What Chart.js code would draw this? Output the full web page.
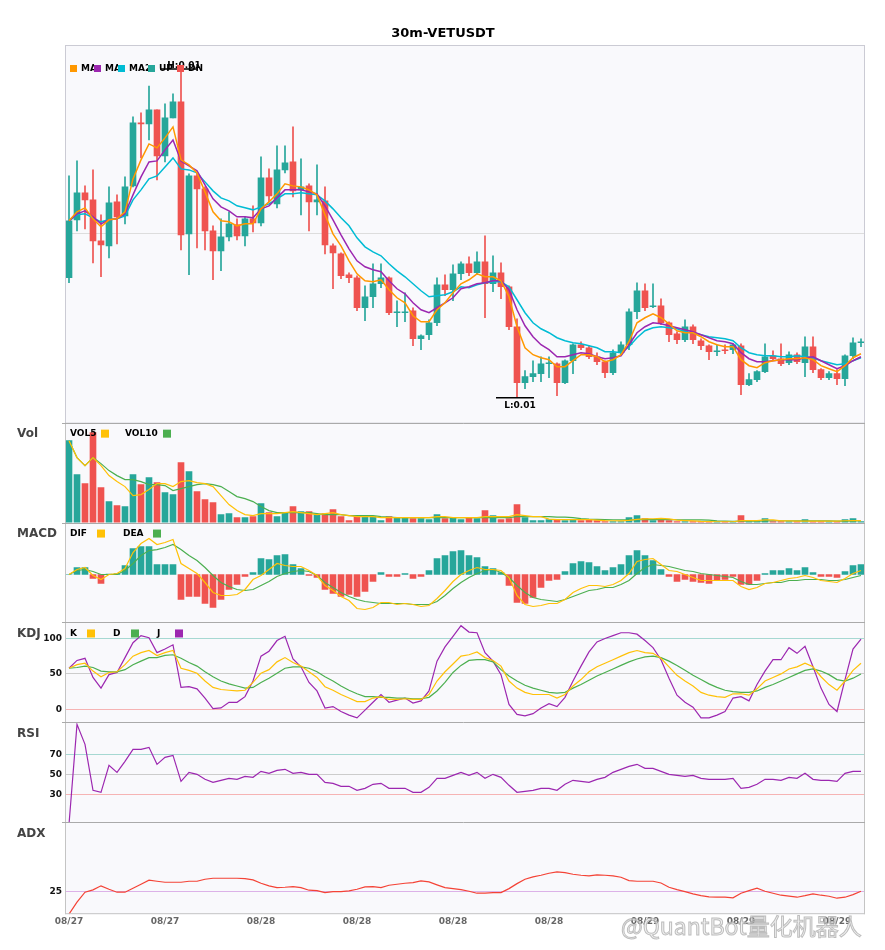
<!DOCTYPE html>
<html>
<head>
<meta charset="utf-8">
<title>30m-VETUSDT</title>
<script src="https://cdn.jsdelivr.net/npm/chart.js@4.4.0/dist/chart.umd.min.js"></script>
<style>
  html, body { margin: 0; padding: 0; background: #fff; }
  #wrap { width: 885px; height: 950px; }
</style>
</head>
<body>
<div id="wrap"><canvas id="chart" width="885" height="950"></canvas></div>
<script>
// ---- data (30m candles, 08/27 12:00 onwards) ----
const tickLabels = ['08/27', '08/27', '08/28', '08/28', '08/28', '08/28', '08/29', '08/29', '08/29'];
const tickEvery = 12;

const opens = [0.01145,0.01203,0.01230,0.01223,0.01182,0.01177,0.01221,0.01207,0.01237,0.01300,
  0.01299,0.01313,0.01267,0.01305,0.01321,0.01189,0.01247,0.01234,0.01192,0.01172,
  0.01186,0.01198,0.01187,0.01204,0.01200,0.01245,0.01219,0.01253,0.01261,0.01233,
  0.01237,0.01221,0.01222,0.01177,0.01169,0.01148,0.01145,0.01115,0.01126,0.01139,
  0.01145,0.01110,0.01110,0.01112,0.01084,0.01088,0.01100,0.01138,0.01133,0.01149,
  0.01159,0.01150,0.01161,0.01139,0.01150,0.01136,0.01096,0.01040,0.01046,0.01049,
  0.01059,0.01059,0.01040,0.01062,0.01078,0.01075,0.01066,0.01061,0.01050,0.01070,
  0.01078,0.01111,0.01132,0.01116,0.01117,0.01100,0.01089,0.01083,0.01096,0.01082,
  0.01077,0.01071,0.01073,0.01073,0.01077,0.01038,0.01043,0.01051,0.01067,0.01064,
  0.01060,0.01068,0.01060,0.01076,0.01053,0.01045,0.01049,0.01044,0.01067,0.01080];
const closes = [0.01202,0.01230,0.01223,0.01182,0.01178,0.01220,0.01206,0.01236,0.01300,0.01299,
  0.01313,0.01267,0.01305,0.01321,0.01188,0.01247,0.01234,0.01192,0.01172,0.01186,
  0.01199,0.01187,0.01204,0.01200,0.01245,0.01227,0.01253,0.01260,0.01232,0.01236,
  0.01221,0.01223,0.01178,0.01170,0.01147,0.01145,0.01115,0.01126,0.01139,0.01145,
  0.01110,0.01111,0.01111,0.01084,0.01087,0.01100,0.01138,0.01133,0.01149,0.01159,
  0.01150,0.01161,0.01139,0.01150,0.01136,0.01096,0.01040,0.01046,0.01049,0.01059,
  0.01060,0.01040,0.01062,0.01078,0.01075,0.01066,0.01061,0.01050,0.01070,0.01078,
  0.01111,0.01132,0.01115,0.01117,0.01100,0.01088,0.01083,0.01096,0.01083,0.01077,
  0.01071,0.01072,0.01072,0.01078,0.01038,0.01043,0.01051,0.01066,0.01064,0.01059,
  0.01068,0.01061,0.01076,0.01053,0.01045,0.01049,0.01044,0.01067,0.01080,0.01081];
const highs = [0.01247,0.01262,0.01237,0.01253,0.01208,0.01236,0.01228,0.01246,0.01306,0.01310,
  0.01337,0.01313,0.01319,0.01329,0.01354,0.01249,0.01250,0.01236,0.01197,0.01204,
  0.01211,0.01204,0.01206,0.01217,0.01266,0.01254,0.01277,0.01277,0.01296,0.01264,
  0.01239,0.01258,0.01236,0.01179,0.01170,0.01150,0.01147,0.01137,0.01159,0.01159,
  0.01146,0.01122,0.01130,0.01115,0.01088,0.01103,0.01145,0.01148,0.01158,0.01161,
  0.01166,0.01171,0.01187,0.01167,0.01160,0.01137,0.01104,0.01052,0.01062,0.01066,
  0.01066,0.01060,0.01063,0.01079,0.01081,0.01077,0.01070,0.01062,0.01073,0.01081,
  0.01114,0.01140,0.01139,0.01139,0.01124,0.01101,0.01091,0.01103,0.01098,0.01084,
  0.01078,0.01078,0.01078,0.01079,0.01079,0.01049,0.01052,0.01079,0.01072,0.01079,
  0.01071,0.01070,0.01086,0.01086,0.01054,0.01051,0.01053,0.01068,0.01085,0.01084];
const lows = [0.01140,0.01192,0.01194,0.01160,0.01146,0.01165,0.01179,0.01199,0.01236,0.01265,
  0.01283,0.01243,0.01261,0.01305,0.01173,0.01148,0.01175,0.01173,0.01143,0.01152,
  0.01182,0.01183,0.01177,0.01191,0.01197,0.01221,0.01215,0.01250,0.01226,0.01208,
  0.01192,0.01208,0.01169,0.01134,0.01144,0.01140,0.01112,0.01102,0.01115,0.01135,
  0.01108,0.01096,0.01101,0.01077,0.01073,0.01083,0.01097,0.01127,0.01122,0.01143,
  0.01147,0.01148,0.01105,0.01131,0.01124,0.01093,0.01025,0.01034,0.01041,0.01041,
  0.01045,0.01027,0.01039,0.01049,0.01073,0.01064,0.01058,0.01045,0.01048,0.01068,
  0.01073,0.01104,0.01112,0.01115,0.01098,0.01081,0.01079,0.01081,0.01079,0.01073,
  0.01063,0.01067,0.01069,0.01069,0.01028,0.01037,0.01041,0.01050,0.01062,0.01057,
  0.01058,0.01059,0.01046,0.01050,0.01043,0.01043,0.01038,0.01037,0.01064,0.01076];

const ma5 = [0.01202,0.01211,0.01215,0.01204,0.01196,0.01203,0.01204,0.01211,0.01244,0.01263,
  0.01279,0.01275,0.01285,0.01296,0.01263,0.01258,0.01250,0.01231,0.01211,0.01202,
  0.01201,0.01197,0.01199,0.01199,0.01214,0.01221,0.01229,0.01239,0.01237,0.01236,
  0.01233,0.01228,0.01208,0.01189,0.01177,0.01162,0.01149,0.01142,0.01141,0.01143,
  0.01133,0.01125,0.01120,0.01107,0.01101,0.01101,0.01113,0.01120,0.01130,0.01139,
  0.01143,0.01149,0.01146,0.01146,0.01142,0.01126,0.01096,0.01075,0.01068,0.01065,
  0.01063,0.01056,0.01056,0.01062,0.01068,0.01068,0.01066,0.01061,0.01063,0.01068,
  0.01081,0.01100,0.01105,0.01109,0.01105,0.01099,0.01092,0.01090,0.01090,0.01086,
  0.01081,0.01078,0.01076,0.01076,0.01063,0.01057,0.01055,0.01060,0.01062,0.01063,
  0.01064,0.01064,0.01065,0.01063,0.01057,0.01054,0.01051,0.01057,0.01065,0.01069];
const ma10 = [0.01202,0.01209,0.01212,0.01206,0.01199,0.01203,0.01204,0.01209,0.01228,0.01246,
  0.01261,0.01262,0.01273,0.01283,0.01262,0.01257,0.01252,0.01238,0.01224,0.01216,
  0.01212,0.01206,0.01206,0.01205,0.01214,0.01217,0.01225,0.01233,0.01233,0.01233,
  0.01231,0.01229,0.01217,0.01203,0.01188,0.01174,0.01162,0.01156,0.01153,0.01151,
  0.01142,0.01134,0.01129,0.01120,0.01113,0.01110,0.01115,0.01120,0.01125,0.01134,
  0.01136,0.01139,0.01140,0.01142,0.01142,0.01133,0.01113,0.01097,0.01086,0.01078,
  0.01073,0.01066,0.01066,0.01068,0.01070,0.01069,0.01066,0.01064,0.01065,0.01067,
  0.01078,0.01090,0.01096,0.01100,0.01099,0.01097,0.01095,0.01093,0.01091,0.01088,
  0.01085,0.01082,0.01081,0.01079,0.01070,0.01064,0.01061,0.01061,0.01062,0.01063,
  0.01063,0.01063,0.01065,0.01066,0.01062,0.01058,0.01054,0.01057,0.01062,0.01066];
const ma20 = [0.01202,0.01208,0.01209,0.01205,0.01201,0.01203,0.01204,0.01207,0.01223,0.01233,
  0.01244,0.01247,0.01256,0.01265,0.01254,0.01253,0.01250,0.01241,0.01232,0.01225,
  0.01222,0.01217,0.01215,0.01213,0.01216,0.01219,0.01224,0.01229,0.01229,0.01230,
  0.01229,0.01228,0.01222,0.01214,0.01205,0.01197,0.01185,0.01176,0.01171,0.01167,
  0.01159,0.01152,0.01146,0.01139,0.01132,0.01126,0.01127,0.01128,0.01131,0.01136,
  0.01135,0.01138,0.01140,0.01141,0.01141,0.01136,0.01123,0.01110,0.01100,0.01094,
  0.01090,0.01085,0.01082,0.01080,0.01079,0.01077,0.01075,0.01071,0.01071,0.01070,
  0.01076,0.01085,0.01092,0.01095,0.01096,0.01095,0.01094,0.01091,0.01090,0.01088,
  0.01086,0.01085,0.01084,0.01082,0.01075,0.01070,0.01068,0.01067,0.01067,0.01066,
  0.01066,0.01067,0.01066,0.01065,0.01062,0.01060,0.01058,0.01059,0.01062,0.01065];

// volume in millions
const volumes = [8.2,4.8,3.9,9.0,3.5,2.1,1.7,1.6,4.8,3.8,
  4.5,4.0,3.0,2.8,6.0,5.1,3.1,2.3,2.0,0.8,
  0.9,0.5,0.5,0.6,1.9,1.0,0.6,1.0,1.6,1.1,
  1.1,0.8,0.9,1.3,0.6,0.2,0.7,0.6,0.6,0.2,
  0.6,0.5,0.5,0.4,0.4,0.3,0.8,0.4,0.5,0.3,
  0.5,0.4,1.2,0.7,0.3,0.4,1.8,0.5,0.2,0.2,
  0.3,0.3,0.2,0.3,0.2,0.3,0.2,0.1,0.1,0.1,
  0.5,0.7,0.4,0.2,0.3,0.2,0.1,0.1,0.1,0.1,
  0.1,0.05,0.05,0.05,0.7,0.1,0.1,0.4,0.1,0.1,
  0.1,0.05,0.3,0.1,0.1,0.1,0.1,0.3,0.4,0.05];
const vol5 = [8.2,6.5,5.7,6.5,5.7,4.7,4.1,3.6,2.7,2.8,
  3.3,3.9,3.9,3.6,4.1,4.2,4.0,3.9,3.6,2.7,
  1.8,1.2,0.8,0.7,0.9,0.9,0.9,1.0,1.1,1.0,
  0.9,0.8,0.9,1.0,0.8,0.7,0.6,0.6,0.6,0.5,
  0.5,0.5,0.5,0.5,0.5,0.5,0.6,0.6,0.5,0.5,
  0.5,0.5,0.6,0.6,0.6,0.6,0.8,0.7,0.6,0.6,
  0.35,0.3,0.3,0.3,0.3,0.3,0.25,0.2,0.18,0.16,
  0.22,0.32,0.36,0.38,0.42,0.36,0.24,0.2,0.16,0.12,
  0.1,0.08,0.08,0.08,0.2,0.2,0.2,0.26,0.26,0.16,
  0.16,0.14,0.14,0.14,0.14,0.14,0.14,0.18,0.2,0.2];
const vol10 = [8.2,6.5,5.7,6.5,5.9,5.2,4.7,4.3,4.3,4.1,
  3.8,3.8,3.7,3.2,3.4,3.6,3.8,3.9,3.8,3.6,
  3.1,2.6,2.4,2.1,1.6,1.2,1.0,1.0,1.0,1.0,
  1.0,0.9,0.8,0.8,0.8,0.7,0.7,0.7,0.7,0.6,
  0.55,0.5,0.5,0.5,0.5,0.5,0.5,0.5,0.5,0.5,
  0.5,0.5,0.5,0.5,0.5,0.5,0.6,0.6,0.6,0.6,
  0.6,0.55,0.55,0.5,0.4,0.35,0.32,0.3,0.28,0.26,
  0.26,0.3,0.31,0.3,0.3,0.3,0.28,0.26,0.26,0.26,
  0.24,0.16,0.14,0.13,0.15,0.14,0.14,0.17,0.18,0.18,
  0.18,0.17,0.18,0.17,0.17,0.16,0.14,0.15,0.16,0.18];

// MACD values in units of 1e-6
const macdHist = [0,7,7,-4,-9,0.5,1,9,26,28,
  28,10,10,10,-25,-22,-22,-29,-33,-25,
  -15,-10,-2,2,16,15,19,20,10,6,
  -1,-3,-15,-19,-22,-20,-22,-17,-7,2,
  -2,-2,1,-4,-2,4,16,19,23,24,
  19,17,8,6,2,-11,-28,-29,-23,-13,
  -6,-5,3,11,13,12,8,4,7,10,
  19,24,19,14,5,-2,-7,-5,-7,-8,
  -9,-6,-5,-2,-10,-10,-6,1,4,4,
  6,4,7,2,-2,-2,-3,3,9,10];
const dif = [0,5,7,-1,-5,0,1,6,22,31,
  36,30,32,35,11,6,1,-8,-18,-21,
  -21,-20,-15,-5,-1,5,11,9,8,8,
  4,-1,-11,-16,-22,-26,-34,-35,-33,-28,
  -28,-30,-29,-30,-32,-31,-24,-16,-7,0,
  4,7,5,5,4,-3,-21,-30,-32,-31,
  -29,-29,-25,-18,-14,-11,-11,-12,-10,-6,
  1,13,15,16,10,4,3,0,-3,-6,
  -6,-6,-6,-6,-12,-15,-13,-9,-8,-6,
  -4,-3,-1,-3,-6,-7,-8,-4,1,4];
const dea = [0,4,5,3,0,0,0,4,11,19,
  24,25,27,30,25,19,14,7,-1,-8,
  -12,-15,-16,-15,-11,-7,-2,1,3,4,
  3,-1,-8,-13,-18,-22,-25,-27,-28,-29,
  -29,-29,-29,-30,-30,-30,-27,-21,-14,-8,
  -3,1,4,5,2,-3,-11,-18,-23,-25,
  -26,-27,-25,-22,-19,-16,-15,-13,-13,-10,
  -6,1,7,10,9,8,6,4,3,1,
  0,-1,-2,-3,-7,-10,-10,-9,-8,-8,
  -6,-6,-5,-5,-5,-6,-6,-5,-3,-1];

const kValues = [58,63,65,54,46,52,53,63,75,80,
  83,76,80,83,58,55,51,40,31,28,
  27,26,27,38,51,56,67,73,66,61,
  53,45,32,27,21,16,11,11,16,18,
  14,14,15,14,14,21,40,53,64,75,
  77,81,73,69,61,40,30,24,21,21,
  21,16,21,33,42,53,60,65,70,75,
  80,83,80,79,72,60,48,40,33,24,
  20,18,17,22,22,20,29,40,45,50,
  57,60,65,60,46,35,27,40,55,65];
const dValues = [58,59,61,59,54,53,53,56,63,68,
  73,73,76,77,72,66,61,53,46,40,
  36,33,30,31,38,44,51,58,60,60,
  58,53,46,40,33,27,22,18,18,17,
  17,16,16,15,15,17,26,38,52,62,
  69,70,70,67,56,47,40,34,30,27,
  24,23,24,30,35,41,47,52,57,62,
  67,71,74,75,73,68,62,55,48,42,
  36,31,27,25,24,24,26,31,35,40,
  45,50,55,57,54,49,42,40,44,50];
const jValues = [58,69,72,45,30,49,52,73,94,104,
  101,80,85,91,31,32,29,16,1,2,
  10,10,18,40,75,82,97,103,71,60,
  38,26,2,4,-3,-8,-12,-1,10,21,
  10,13,16,9,12,26,68,88,103,118,
  109,108,80,68,49,7,-7,-9,-6,2,
  8,4,17,40,61,81,95,100,104,108,
  108,106,97,87,70,44,20,10,3,-12,
  -12,-8,-3,16,18,12,35,54,70,70,
  87,79,89,60,30,7,-3,42,85,99];

const rsiValues = [0,100,80,34,32,59,52,63,75,75,
  77,60,67,69,43,52,50,45,42,44,
  46,45,48,47,53,51,54,55,51,52,
  50,50,42,41,38,38,34,36,40,41,
  36,36,36,32,32,37,46,46,49,52,
  49,52,46,50,47,39,32,33,34,36,
  36,34,40,44,43,42,45,47,52,55,
  58,60,56,56,53,50,49,48,49,46,
  45,45,45,46,36,37,40,45,45,44,
  47,46,51,45,44,44,43,51,53,53];

const adxValues = [13.5,19.5,24.5,25.7,27.7,26,24.5,24.5,26.5,28.5,
  30.5,30,29.5,29.5,29.5,30,30,31,31.5,31.5,
  31.5,31.5,31.3,30.7,29,27.7,26.8,27,27.3,26.8,
  25.5,25.3,24.3,24.8,24.8,25.2,26,27.2,27.3,26.8,
  28,28.5,29,29.3,30.2,29.7,28.2,26.8,26.3,25.8,
  25,24,24,24.3,24.3,26.3,28.8,31,32.2,33,
  34,34.7,34.3,33.5,33,32.7,33.2,33,32.7,32,
  30.3,30,30,30,29.1,27,25.8,24.8,23.7,22.8,
  22.2,22,22,21.7,24,25.3,26.5,25,24,23,
  22.5,22,22.8,23.7,23,22.5,21.5,22,23.3,25];

const kdjTicks = [0, 50, 100];
const rsiTicks = [30, 50, 70];
const adxTicks = [25];
const priceTicks = [0.01189];

// ---- styling ----
const UP = '#26a69a', DN = '#ef5350';
const ORANGE = '#ff9800', PURPLE = '#9c27b0', CYAN = '#00bcd4', YELLOW = '#ffc107', GREEN = '#4caf50';
const FONT = '"DejaVu Sans", Verdana, sans-serif';

const startTime = Date.UTC(2023, 7, 27, 12, 0);
const categories = opens.map((_, i) => {
  const d = new Date(startTime + i * 30 * 60000);
  return (d.getUTCMonth() + 1) + '/' + d.getUTCDate() + ' ' + d.getUTCHours() + ':' + String(d.getUTCMinutes()).padStart(2, '0');
});
const candleColors = opens.map((o, i) => closes[i] >= o ? UP : DN);
const histColors = macdHist.map(v => v >= 0 ? UP : DN);

function lineDs(label, data, color, axis, width) {
  return { type: 'line', label, data, yAxisID: axis, borderColor: color, borderWidth: width || 1.4,
    pointRadius: 0, tension: 0, fill: false, order: 0 };
}
function barDs(label, data, colors, axis, thickness, order, minLen) {
  return { type: 'bar', label, data, yAxisID: axis, backgroundColor: colors, borderWidth: 0,
    barThickness: thickness, grouped: false, minBarLength: minLen, order };
}
function yAxis(min, max, weight, tickVals, gridColors, showLabels) {
  return {
    type: 'linear', position: 'left', stack: 'panels', stackWeight: weight, min, max,
    afterBuildTicks: s => { s.ticks = tickVals.map(v => ({ value: v })); },
    afterFit: s => { s.width = 65; },
    border: { display: false },
    grid: { drawTicks: false, lineWidth: 1, color: c => gridColors[c.index] || 'rgba(0,0,0,0)' },
    ticks: { display: showLabels, padding: 3, color: '#111', font: { family: FONT, weight: 'bold', size: 9 },
      callback: v => String(v) }
  };
}

const panels = [
  { id: 'yVol', name: 'Vol', legend: [['VOL5', 70, 101, YELLOW], ['VOL10', 125, 163, GREEN]] },
  { id: 'yMacd', name: 'MACD', legend: [['DIF', 70, 97, YELLOW], ['DEA', 123, 153, GREEN]] },
  { id: 'yKdj', name: 'KDJ', legend: [['K', 70, 87, YELLOW], ['D', 113, 131, GREEN], ['J', 157, 175, PURPLE]] },
  { id: 'yRsi', name: 'RSI', legend: [] },
  { id: 'yAdx', name: 'ADX', legend: [] }
];
const priceLegend = [['MA5', 70, ORANGE], ['MA10', 94, PURPLE], ['MA20', 118, CYAN], ['UP', 148, UP], ['DN', 177, DN]];

const decorPlugin = {
  id: 'decor',
  beforeDraw(chart) {
    const { ctx, chartArea: a } = chart;
    ctx.save();
    ctx.fillStyle = '#ffffff';
    ctx.fillRect(0, 0, chart.width, chart.height);
    ctx.fillStyle = '#f9f9fc';
    ctx.fillRect(a.left, a.top, a.right - a.left, a.bottom - a.top);
    ctx.restore();
  },
  afterDatasetsDraw(chart) {
    const { ctx, chartArea: a, scales } = chart;
    ctx.save();
    ctx.lineWidth = 1;
    ctx.strokeStyle = '#cbcbd4';
    ctx.strokeRect(a.left + 0.5, a.top + 0.5, a.right - a.left - 1, scales.yPrice.bottom - a.top);
    ctx.strokeStyle = '#c4c4c4';
    ctx.beginPath();
    ctx.moveTo(a.left + 0.5, scales.yPrice.bottom); ctx.lineTo(a.left + 0.5, a.bottom);
    ctx.moveTo(a.right - 0.5, scales.yPrice.bottom); ctx.lineTo(a.right - 0.5, a.bottom);
    ctx.moveTo(a.left, a.bottom - 0.5); ctx.lineTo(a.right, a.bottom - 0.5);
    ctx.stroke();
    ctx.strokeStyle = '#aaaaaa';
    ctx.beginPath();
    panels.forEach(p => {
      const y = Math.round(scales[p.id].top) + 0.5;
      ctx.moveTo(a.left - 3, y); ctx.lineTo(a.right, y);
    });
    ctx.stroke();
    ctx.restore();
  },
  afterDraw(chart) {
    const { ctx, scales } = chart;
    const xs = scales.x, yp = scales.yPrice;
    ctx.save();
    ctx.textBaseline = 'middle';

    // title
    ctx.fillStyle = '#000';
    ctx.textAlign = 'center';
    ctx.font = 'bold 13px ' + FONT;
    ctx.fillText('30m-VETUSDT', 443, 34);

    // high / low markers
    const hi = highs.indexOf(Math.max(...highs));
    const lo = lows.indexOf(Math.min(...lows));
    ctx.font = 'bold 9px ' + FONT;
    ctx.strokeStyle = '#000';
    ctx.lineWidth = 1.5;
    [[hi, highs[hi], 'H:', -1], [lo, lows[lo], 'L:', 1]].forEach(([i, v, tag, dir]) => {
      const x = xs.getPixelForValue(i), y = yp.getPixelForValue(v);
      ctx.beginPath(); ctx.moveTo(x - 21, y); ctx.lineTo(x + 17, y); ctx.stroke();
      ctx.textBaseline = dir < 0 ? 'alphabetic' : 'top';
      ctx.fillText(tag + v.toFixed(2), x + 3, dir < 0 ? y - 1 : y + 3);
    });
    ctx.textBaseline = 'middle';

    // price legend: each label is cut off by the next swatch, as in the original
    ctx.textAlign = 'left';
    priceLegend.forEach(([label, x, color], k) => {
      ctx.fillStyle = color;
      ctx.fillRect(x, 65, 7, 7);
      const next = k + 1 < priceLegend.length ? priceLegend[k + 1][1] : chart.width;
      ctx.save();
      ctx.beginPath();
      ctx.rect(x + 10, 55, next - x - 10, 25);
      ctx.clip();
      ctx.fillStyle = '#000';
      ctx.fillText(label, x + 11, 69);
      ctx.restore();
    });

    // sub panel names and legends
    panels.forEach(p => {
      const top = scales[p.id].top;
      ctx.fillStyle = '#444';
      ctx.font = 'bold 12px ' + FONT;
      ctx.fillText(p.name, 17, top + 11.5);
      ctx.font = 'bold 9px ' + FONT;
      p.legend.forEach(([label, tx, sx, color]) => {
        ctx.fillStyle = '#000';
        ctx.fillText(label, tx, top + 11);
        ctx.fillStyle = color;
        ctx.fillRect(sx, top + 7, 8, 8);
      });
    });

    // watermark
    ctx.font = '23px "Noto Sans CJK SC", sans-serif';
    ctx.lineWidth = 1;
    ctx.strokeStyle = 'rgba(170,170,170,0.75)';
    ctx.fillStyle = 'rgba(235,235,235,0.6)';
    ctx.fillText('@QuantBot量化机器人', 621, 926);
    ctx.strokeText('@QuantBot量化机器人', 621, 926);
    ctx.restore();
  }
};

new Chart(document.getElementById('chart'), {
  type: 'bar',
  data: {
    labels: categories,
    datasets: [
      lineDs('MA5', ma5, ORANGE, 'yPrice', 1.5),
      lineDs('MA10', ma10, PURPLE, 'yPrice', 1.5),
      lineDs('MA20', ma20, CYAN, 'yPrice', 1.5),
      barDs('Body', opens.map((o, i) => [o, closes[i]]), candleColors, 'yPrice', 6, 1, 1),
      barDs('Wick', lows.map((l, i) => [l, highs[i]]), candleColors, 'yPrice', 1, 2, 0),
      lineDs('VOL5', vol5, YELLOW, 'yVol', 1.2),
      lineDs('VOL10', vol10, GREEN, 'yVol', 1.2),
      barDs('Vol', volumes, candleColors, 'yVol', 6, 1, 1),
      lineDs('DIF', dif, YELLOW, 'yMacd', 1.2),
      lineDs('DEA', dea, GREEN, 'yMacd', 1.2),
      barDs('MACD', macdHist, histColors, 'yMacd', 6, 1, 0),
      lineDs('K', kValues, YELLOW, 'yKdj', 1.2),
      lineDs('D', dValues, GREEN, 'yKdj', 1.2),
      lineDs('J', jValues, PURPLE, 'yKdj', 1.2),
      lineDs('RSI', rsiValues, PURPLE, 'yRsi', 1.2),
      lineDs('ADX', adxValues, '#f44336', 'yAdx', 1.2)
    ]
  },
  options: {
    responsive: false,
    animation: false,
    devicePixelRatio: 1,
    layout: { padding: { top: 45, right: 20, bottom: 21, left: 0 } },
    plugins: { legend: { display: false }, tooltip: { enabled: false } },
    scales: {
      x: {
        type: 'category', offset: true,
        grid: { display: false, drawTicks: false }, border: { display: false },
        ticks: { autoSkip: false, maxRotation: 0, padding: 2, color: '#666',
          font: { family: FONT, weight: 'bold', size: 9 },
          callback: (v, i) => i % tickEvery === 0 ? tickLabels[i / tickEvery] : '' }
      },
      // stacked panels: the last defined one is placed on top
      yAdx: yAxis(13.5, 59.5, 92, adxTicks, ['#dcb2e8'], true),
      yRsi: yAxis(2, 102, 100, rsiTicks, ['#f6b4b4', '#cccccc', '#a6d8d2'], true),
      yKdj: yAxis(-18.3, 122.5, 100, kdjTicks, ['#f6b4b4', '#cccccc', '#a6d8d2'], true),
      yMacd: yAxis(-48, 52, 100, [], [], false),
      yVol: yAxis(0, 10, 100, [], [], false),
      yPrice: yAxis(0.01000, 0.01378, 378, priceTicks, ['#dddddd'], false)
    }
  },
  plugins: [decorPlugin]
});
</script>
</body>
</html>
